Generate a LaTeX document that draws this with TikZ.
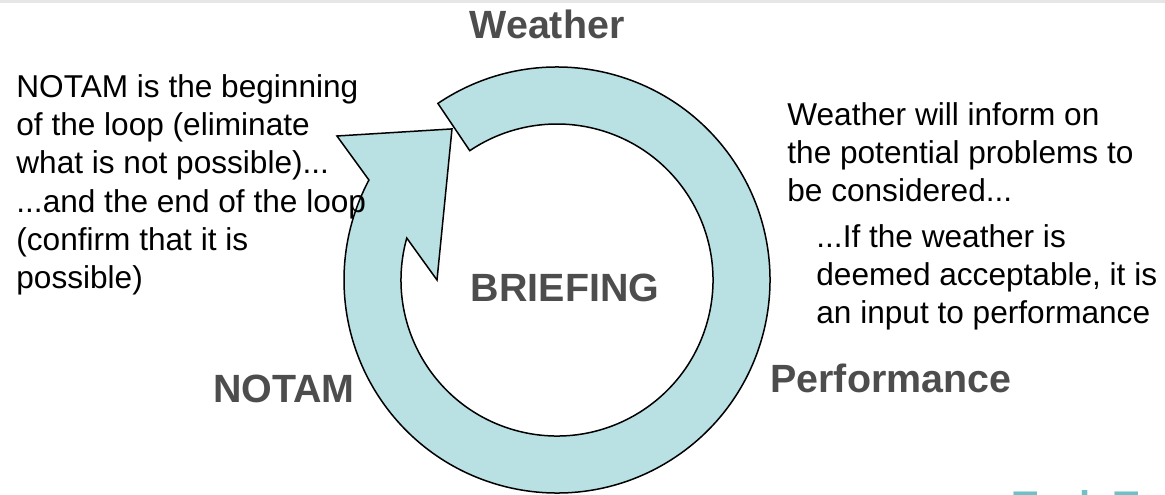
\documentclass[tikz,border=0pt]{standalone}
\usepackage{fontspec}
\setmainfont{Liberation Sans}
\definecolor{ringfill}{HTML}{B9E0E3}
\definecolor{stagegray}{HTML}{4D4D4D}
\definecolor{logoteal}{HTML}{6EC1C6}
\definecolor{bargray}{HTML}{E6E6E6}

\begin{document}
\begin{tikzpicture}[x=0.5pt,y=0.5pt]

\tikzset{stage/.style={font=\fontsize{19.7}{23}\selectfont\bfseries,text=stagegray,inner sep=0pt,anchor=base}}
\tikzset{remark/.style={font=\fontsize{15.8}{19.15}\selectfont,align=left,inner sep=0pt,anchor=north west}}

\useasboundingbox (0,0) rectangle (1165,494);
\fill[bargray] (0,491) rectangle (1165,494);

% the loop
\coordinate (hub) at (557,214);
\draw[line width=0.75pt,fill=ringfill,shift={(hub)}]
  (124:213) arc[start angle=124,end angle=-208,radius=213]
  -- (146.8:263) -- (124.8:184) -- (180:120) -- (164.4:156)
  arc[start angle=-195.6,end angle=124,radius=156] -- cycle;

\node[stage] (weather)  at (547,455) {Weather};
\node[stage] (briefing) at (565,193) {BRIEFING};
\node[stage] (notam)    at (284,92)  {NOTAM};
\node[stage,anchor=base west] (performance) at (770,102) {Performance};

\node[remark] (notamnote) at (16,420)
  {NOTAM is the beginning\\of the loop (eliminate\\what is not possible)...\\...and the end of the loop\\(confirm that it is\\possible)};
\node[remark] (weathernote) at (787,392)
  {Weather will inform on\\the potential problems to\\be considered...};
\node[remark] (perfnote) at (816,270)
  {...If the weather is\\deemed acceptable, it is\\an input to performance};

% logo, cut by the lower edge as in the slide
\node[font=\fontsize{20}{24}\selectfont\bfseries,text=logoteal,inner sep=0pt,anchor=base west] (logo) at (1013,-25) {Tech T};

\end{tikzpicture}
\end{document}
